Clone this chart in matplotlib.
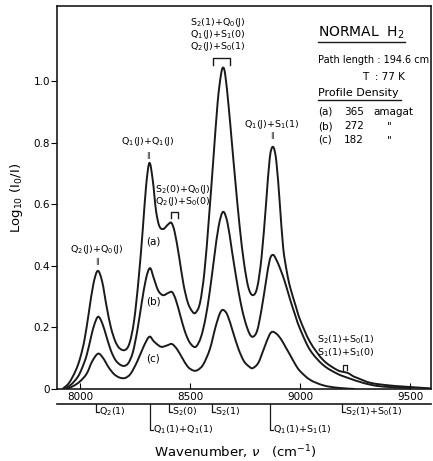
import matplotlib
matplotlib.use("Agg")
import matplotlib.pyplot as plt
from matplotlib.lines import Line2D
from matplotlib.path import Path
from matplotlib.patches import PathPatch

# absorption profiles of normal H2 at 77 K, three densities
wn_a = [7920, 7950, 7980, 8000, 8020, 8040, 8060, 8080, 8100, 8120, 8140, 8160,
        8180, 8205, 8225, 8245, 8265, 8285, 8300, 8315, 8330, 8345, 8360, 8378,
        8400, 8415, 8430, 8450, 8470, 8490, 8510, 8525, 8545, 8565, 8585, 8605,
        8625, 8640, 8650, 8660, 8675, 8690, 8705, 8725, 8745, 8765, 8785, 8805,
        8825, 8845, 8862, 8877, 8892, 8908, 8923, 8940, 8955, 8980, 9000, 9045,
        9105, 9168, 9200, 9218, 9240, 9260, 9320, 9400, 9470, 9550, 9595]
abs_a = [0.0, 0.02, 0.06, 0.10, 0.16, 0.25, 0.34, 0.384, 0.35, 0.27, 0.20, 0.155,
         0.132, 0.127, 0.15, 0.22, 0.35, 0.52, 0.66, 0.735, 0.68, 0.58, 0.53, 0.52,
         0.535, 0.54, 0.51, 0.43, 0.34, 0.28, 0.252, 0.248, 0.28, 0.38, 0.55, 0.74,
         0.93, 1.02, 1.045, 1.02, 0.92, 0.80, 0.68, 0.53, 0.41, 0.33, 0.305, 0.33,
         0.43, 0.60, 0.75, 0.787, 0.74, 0.60, 0.46, 0.38, 0.33, 0.27, 0.225, 0.153,
         0.094, 0.062, 0.055, 0.052, 0.042, 0.036, 0.02, 0.012, 0.008, 0.004, 0.002]

wn_b = [7930, 7960, 7990, 8010, 8030, 8050, 8065, 8082, 8100, 8120, 8140, 8160,
        8180, 8200, 8220, 8240, 8260, 8280, 8300, 8318, 8335, 8355, 8377, 8400,
        8418, 8435, 8455, 8475, 8495, 8515, 8530, 8550, 8570, 8590, 8610, 8630,
        8650, 8670, 8690, 8710, 8730, 8750, 8770, 8786, 8805, 8825, 8845, 8862,
        8877, 8892, 8910, 8930, 8955, 8980, 9000, 9045, 9105, 9168, 9218, 9286,
        9350, 9420, 9500]
abs_b = [0.0, 0.015, 0.04, 0.07, 0.11, 0.17, 0.21, 0.235, 0.215, 0.17, 0.125, 0.095,
         0.08, 0.075, 0.085, 0.12, 0.19, 0.28, 0.36, 0.393, 0.36, 0.32, 0.305, 0.312,
         0.315, 0.29, 0.24, 0.19, 0.155, 0.138, 0.14, 0.17, 0.23, 0.32, 0.43, 0.53,
         0.576, 0.54, 0.45, 0.36, 0.28, 0.22, 0.18, 0.17, 0.19, 0.26, 0.35, 0.42,
         0.436, 0.42, 0.39, 0.35, 0.29, 0.235, 0.195, 0.127, 0.078, 0.05, 0.036, 0.02,
         0.01, 0.006, 0.003]

wn_c = [7940, 7970, 8000, 8030, 8055, 8082, 8105, 8130, 8155, 8180, 8205, 8230,
        8260, 8290, 8315, 8335, 8360, 8375, 8400, 8418, 8440, 8465, 8490, 8515,
        8535, 8560, 8590, 8615, 8635, 8650, 8670, 8695, 8720, 8745, 8770, 8785,
        8810, 8835, 8860, 8875, 8895, 8915, 8935, 8955, 8980, 9000, 9045, 9105,
        9170, 9250]
abs_c = [0.0, 0.01, 0.025, 0.05, 0.09, 0.115, 0.10, 0.07, 0.048, 0.037, 0.036, 0.05,
         0.09, 0.14, 0.17, 0.155, 0.14, 0.137, 0.143, 0.146, 0.13, 0.10, 0.072, 0.06,
         0.062, 0.08, 0.13, 0.20, 0.245, 0.257, 0.24, 0.185, 0.13, 0.09, 0.072, 0.068,
         0.085, 0.13, 0.175, 0.186, 0.178, 0.16, 0.135, 0.11, 0.078, 0.058, 0.03, 0.012,
         0.004, 0.0]

curve_labels = ["(a)", "(b)", "(c)"]
densities = ["365", "272", "182"]

# assignment markers under the axis: (position, label, long hook)
marker_pos = [8073, 8318, 8405, 8600, 8864, 9191]
marker_text = [r"Q$_2$(1)", r"Q$_1$(1)+Q$_1$(1)", r"S$_2$(0)", r"S$_2$(1)",
               r"Q$_1$(1)+S$_1$(1)", r"S$_2$(1)+S$_0$(1)"]
marker_long = [False, True, False, False, True, False]

INK = "#1a1a1a"


def smooth_path(xs, ys):
    """Catmull-Rom curve through the points, written as cubic Bezier segments."""
    pts = list(zip(xs, ys))
    verts = [pts[0]]
    codes = [Path.MOVETO]
    n = len(pts)
    for i in range(n - 1):
        p0 = pts[max(i - 1, 0)]
        p1 = pts[i]
        p2 = pts[i + 1]
        p3 = pts[min(i + 2, n - 1)]
        c1 = (p1[0] + (p2[0] - p0[0]) / 6, p1[1] + (p2[1] - p0[1]) / 6)
        c2 = (p2[0] - (p3[0] - p1[0]) / 6, p2[1] - (p3[1] - p1[1]) / 6)
        verts += [c1, c2, p2]
        codes += [Path.CURVE4] * 3
    return Path(verts, codes)


W, H = 433, 461
fig = plt.figure(figsize=(W / 100, H / 100), dpi=100)
ax = fig.add_axes([57 / W, 1 - 389 / H, 374 / W, 383 / H])

for wn, ab in [(wn_a, abs_a), (wn_b, abs_b), (wn_c, abs_c)]:
    ax.add_patch(PathPatch(smooth_path(wn, ab), fill=False, edgecolor=INK,
                           lw=1.4, joinstyle="round"))

ax.set_xlim(7895, 9595)
ax.set_ylim(0, 1.245)
ax.set_xticks([8000, 8500, 9000, 9500])
ax.set_yticks([0, 0.2, 0.4, 0.6, 0.8, 1.0])
ax.set_yticklabels(["0", "0.2", "0.4", "0.6", "0.8", "1.0"])
ax.tick_params(axis="x", direction="in", length=4, labelsize=7.5, pad=2)
ax.tick_params(axis="y", direction="out", length=4, labelsize=7.5, pad=1)
for s in ax.spines.values():
    s.set_linewidth(1.2)
    s.set_color(INK)

ax.set_ylabel(r"Log$_{10}$ (I$_0$/I)", fontsize=9.5, labelpad=6)
fig.text(235 / W, 1 - 452 / H, r"Wavenumber, $\nu$   (cm$^{-1}$)",
         fontsize=9.5, ha="center", va="center")

fs = 6.8
# peak assignments
ax.text(8077, 0.452, r"Q$_2$(J)+Q$_0$(J)", fontsize=fs, ha="center", va="center")
ax.text(8077, 0.413, "\u2016", fontsize=5, ha="center", va="center")
ax.text(8309, 0.803, r"Q$_1$(J)+Q$_1$(J)", fontsize=fs, ha="center", va="center")
ax.text(8309, 0.758, "\u2016", fontsize=5, ha="center", va="center")
ax.text(8468, 0.650, r"S$_2$(0)+Q$_0$(J)", fontsize=fs, ha="center", va="center")
ax.text(8468, 0.608, r"Q$_2$(J)+S$_0$(0)", fontsize=fs, ha="center", va="center")
ax.plot([8414, 8414, 8445, 8445], [0.556, 0.576, 0.576, 0.556], color=INK, lw=1)
ax.text(8627, 1.190, r"S$_2$(1)+Q$_0$(J)", fontsize=fs, ha="center", va="center")
ax.text(8627, 1.151, r"Q$_1$(J)+S$_1$(0)", fontsize=fs, ha="center", va="center")
ax.text(8627, 1.112, r"Q$_2$(J)+S$_0$(1)", fontsize=fs, ha="center", va="center")
ax.plot([8605, 8605, 8682, 8682], [1.054, 1.076, 1.076, 1.054], color=INK, lw=1)
ax.text(8873, 0.859, r"Q$_1$(J)+S$_1$(1)", fontsize=fs, ha="center", va="center")
ax.text(8873, 0.823, "\u2016", fontsize=5, ha="center", va="center")
ax.text(9205, 0.159, r"S$_2$(1)+S$_0$(1)", fontsize=fs, ha="center", va="center")
ax.text(9205, 0.117, r"S$_1$(1)+S$_1$(0)", fontsize=fs, ha="center", va="center")
ax.plot([9196, 9196, 9214, 9214], [0.062, 0.078, 0.078, 0.062], color=INK, lw=0.9)

# curve labels
for lab, yv in zip(curve_labels, [0.48, 0.286, 0.10]):
    ax.text(8332, yv, lab, fontsize=7.5, ha="center", va="center")

# marker line with hooks below the axis
tr = ax.get_xaxis_transform()
ax.plot([7895, 9595], [-0.039, -0.039], transform=tr, color=INK,
        lw=1.2, clip_on=False)
for pos, txt, long in zip(marker_pos, marker_text, marker_long):
    yb = -0.107 if long else -0.060
    ax.plot([pos, pos, pos + 12], [-0.039, yb, yb], transform=tr,
            color=INK, lw=0.9, clip_on=False)
    ax.text(pos + 14, yb, txt, transform=tr, fontsize=6.8, ha="left",
            va="center", clip_on=False)


# sample description
def ftext(x, y, s, **kw):
    fig.text(x / W, 1 - y / H, s, va="center", ha="left", **kw)


ftext(318, 33, r"NORMAL  H$_2$", fontsize=10)
fig.add_artist(Line2D([318 / W, 405 / W], [1 - 42 / H, 1 - 42 / H], color=INK, lw=1))
ftext(318, 60, "Path length : 194.6 cm", fontsize=7)
ftext(362, 77, "T  : 77 K", fontsize=7.5)
ftext(318, 93, "Profile Density", fontsize=8)
fig.add_artist(Line2D([318 / W, 401 / W], [1 - 100 / H, 1 - 100 / H], color=INK, lw=1))
for i, (lab, d) in enumerate(zip(curve_labels, densities)):
    yy = 112 + 14 * i
    ftext(318, yy, lab, fontsize=7.5)
    ftext(344, yy, d, fontsize=7.5)
    ftext(373 if i == 0 else 387, yy, "amagat" if i == 0 else "\"", fontsize=7.5)

fig.savefig("out.png", dpi=100)
